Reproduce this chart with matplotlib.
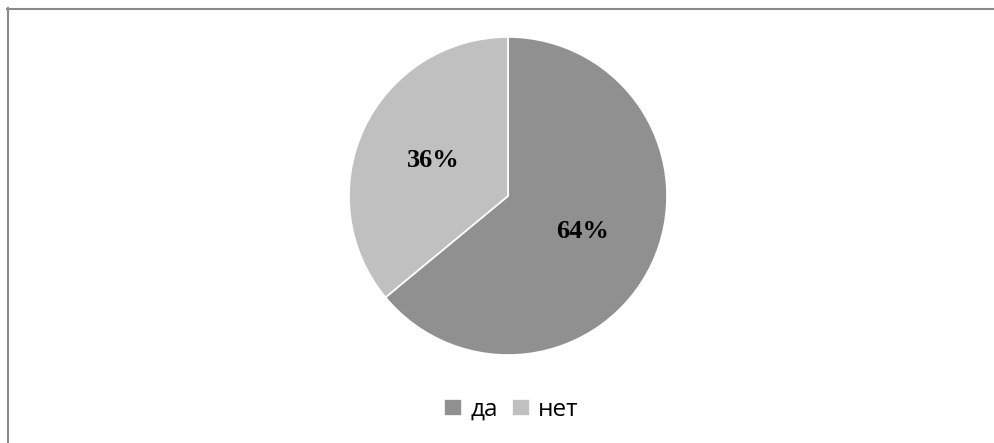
import numpy as np
import matplotlib
matplotlib.use('Agg')
import matplotlib.pyplot as plt
from matplotlib.lines import Line2D

labels = ['да', 'нет']
shares = [64, 36]
colors = ['#909090', '#c0c0c0']

W, H = 994, 443
fig = plt.figure(figsize=(W / 100, H / 100), dpi=100)
fig.patch.set_facecolor('white')

# pie box in pixels: centre (508, 196), radius 159
cx, cy, r = 508, 196, 159
ax = fig.add_axes([(cx - r) / W, (H - cy - r) / H, 2 * r / W, 2 * r / H])
wedges, texts, autotexts = ax.pie(
    shares, colors=colors, startangle=90, counterclock=False,
    autopct='%d%%', pctdistance=0.52,
    wedgeprops=dict(edgecolor='white', linewidth=1.2),
    textprops=dict(family='Liberation Serif', fontweight='bold', fontsize=19, color='black'))
ax.set_xlim(-1, 1)
ax.set_ylim(-1, 1)
ax.set_aspect('equal')
ax.axis('off')

# frame of the chart area (top and left edges only visible)
fig.add_artist(Line2D([7 / W, 1], [1 - 8.5 / H, 1 - 8.5 / H], transform=fig.transFigure,
                      color='#8a8a8a', lw=1.5))
fig.add_artist(Line2D([7.5 / W, 7.5 / W], [1 - 8 / H, 0], transform=fig.transFigure,
                      color='#8a8a8a', lw=1.5))

fig.legend(wedges, labels, loc='center', bbox_to_anchor=(511.5 / W, 1 - 410 / H),
           ncol=2, frameon=False, handlelength=0.72, handleheight=0.72,
           handletextpad=0.35, columnspacing=0.6, prop=dict(family='Open Sans', size=17.5))

fig.savefig('out.png', dpi=100, facecolor='white')
